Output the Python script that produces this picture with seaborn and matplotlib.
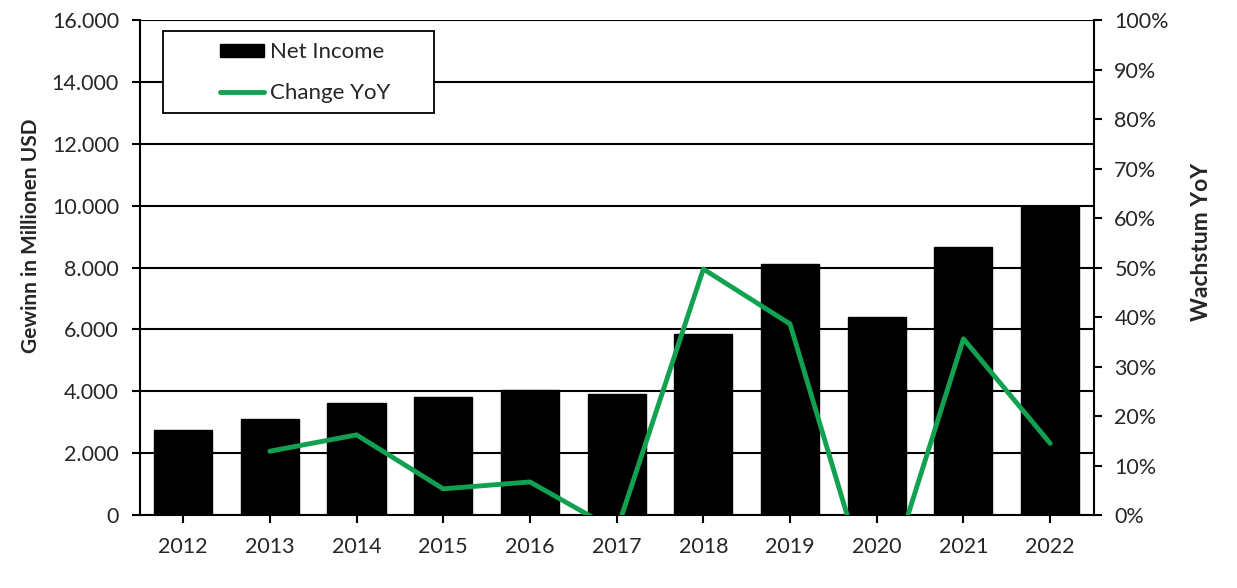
# Net income bars with year-over-year change line

import matplotlib
matplotlib.use("Agg")
import matplotlib.pyplot as plt
import matplotlib.ticker as mticker
from matplotlib.patches import Patch, Rectangle
from matplotlib.lines import Line2D
import seaborn as sns
import pandas as pd
import numpy as np

years = ["2012", "2013", "2014", "2015", "2016", "2017",
         "2018", "2019", "2020", "2021", "2022"]
net_income = [2750, 3100, 3620, 3810, 4040, 3910,
              5850, 8110, 6400, 8660, 9990]
change_yoy = [np.nan, 0.129, 0.162, 0.053, 0.067, -0.032,
              0.497, 0.386, -0.20, 0.356, 0.145]

GREEN = "#12A150"
TICK_FS = 15.5

sns.set_theme(style="white")
plt.rcParams["font.family"] = ["Lato", "DejaVu Sans"]

df = pd.DataFrame({"year": years, "net_income": net_income,
                   "change": change_yoy})
df["pos"] = np.arange(len(df))

fig = plt.figure(figsize=(12.37, 5.88), dpi=100)
ax = fig.add_axes([0.113, 0.124, 0.771, 0.842])

sns.barplot(data=df, x="year", y="net_income", color="black",
            width=0.67, saturation=1, edgecolor="black", ax=ax, zorder=3)
ax.set_xlim(-0.5, len(years) - 0.5)
ax.set_ylim(0, 16000)
ax.set_yticks(np.arange(0, 16001, 2000))
ax.yaxis.set_major_formatter(
    mticker.FuncFormatter(lambda v, p: f"{int(v):,}".replace(",", ".")))
ax.grid(axis="y", color="black", linewidth=1.5, zorder=0)
ax.set_axisbelow(True)
ax.set_xlabel("")
ax.set_ylabel("Gewinn in Millionen USD", fontsize=15, fontweight="bold",
              labelpad=8, y=0.564)
ax.tick_params(axis="both", labelsize=TICK_FS, direction="out", length=6,
               width=1.5, color="black", pad=9)
ax.tick_params(axis="x", bottom=True, pad=10)
ax.tick_params(axis="y", left=True)
for s in ["left", "bottom"]:
    ax.spines[s].set_color("black")
    ax.spines[s].set_linewidth(1.5)
ax.spines["top"].set_visible(False)
ax.spines["right"].set_visible(False)

ax2 = ax.twinx()
sns.lineplot(data=df, x="pos", y="change", color=GREEN, linewidth=3.5,
             ax=ax2, zorder=4)
ax2.set_xlim(ax.get_xlim())
ax2.set_ylim(0, 1)
ax2.set_yticks(np.arange(0, 1.01, 0.1))
ax2.yaxis.set_major_formatter(mticker.PercentFormatter(1.0, decimals=0))
ax2.set_ylabel("Wachstum YoY", fontsize=16.5, fontweight="bold", labelpad=16,
               y=0.552)
ax2.tick_params(axis="y", labelsize=TICK_FS, direction="out", length=6,
                width=1.5, color="black", right=True, pad=9)
ax2.spines["right"].set_color("black")
ax2.spines["right"].set_linewidth(1.5)
for s in ["top", "left", "bottom"]:
    ax2.spines[s].set_visible(False)

# legend box (frame drawn separately so the padding matches the reference)
ax2.add_patch(Rectangle((0.024, 0.812), 0.2845, 0.166, transform=ax2.transAxes,
                        facecolor="white", edgecolor="black", linewidth=1.3,
                        zorder=5, clip_on=False))
handles = [Patch(facecolor="black", edgecolor="black"),
           Line2D([0], [0], color=GREEN, linewidth=3.5)]
leg = ax2.legend(handles, ["Net Income", "Change YoY"],
                 loc="upper left", bbox_to_anchor=(0.084, 0.955),
                 fontsize=16, frameon=False,
                 handlelength=2.0, handleheight=0.55, handletextpad=0.25,
                 borderpad=0, labelspacing=0.95, borderaxespad=0)
leg.set_zorder(6)

fig.savefig("out.png", dpi=100)
